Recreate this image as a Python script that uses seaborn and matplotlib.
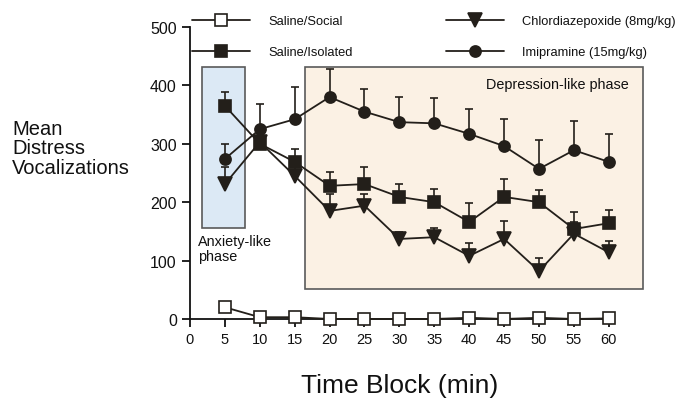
import matplotlib
matplotlib.use("Agg")
import numpy as np
import pandas as pd
import seaborn as sns
import matplotlib.pyplot as plt
from matplotlib.lines import Line2D
from matplotlib.patches import Rectangle

# data
time_block = [5, 10, 15, 20, 25, 30, 35, 40, 45, 50, 55, 60]
saline_social = [20, 3, 3, 0, 0, 0, 0, 2, 0, 2, 0, 1]
saline_isolated = [365, 300, 269, 228, 231, 209, 200, 166, 209, 200, 154, 164]
chlordiazepoxide = [231, 303, 245, 185, 194, 137, 140, 108, 137, 82, 146, 114]
imipramine = [274, 325, 342, 380, 355, 337, 335, 317, 296, 257, 289, 269]

isolated_err = [24, 20, 22, 24, 29, 22, 23, 33, 31, 21, 29, 23]
chlor_err = [30, 20, 20, 29, 20, 12, 15, 22, 31, 22, 20, 20]
imip_err = [26, 43, 55, 48, 39, 43, 43, 43, 46, 49, 50, 48]

series_names = ["Saline/Social", "Saline/Isolated",
                "Chlordiazepoxide (8mg/kg)", "Imipramine (15mg/kg)"]

ink = "#231f1a"

sns.set_style("ticks")
plt.rcParams['font.family'] = ['Liberation Sans', 'DejaVu Sans']
plt.rcParams['text.color'] = "#111"
plt.rcParams['xtick.color'] = "#111"
plt.rcParams['ytick.color'] = "#111"

fig = plt.figure(figsize=(6.81, 4.10), dpi=100)
ax = fig.add_axes([183 / 681, (410 - 325.8) / 410, 467.7 / 681, 309.5 / 410])

# phase boxes
ax.add_patch(Rectangle((1.7, 156), 6.2, 275, facecolor="#dce9f5",
                       edgecolor="#5a5a5a", lw=1.2, zorder=0))
ax.add_patch(Rectangle((16.5, 51), 48.4, 380, facecolor="#fbf1e4",
                       edgecolor="#5a5a5a", lw=1.2, zorder=0))
ax.text(1.1, 145, "Anxiety-like\nphase", fontsize=10.4, ha="left", va="top",
        linespacing=1.05)
ax.text(62.8, 402, "Depression-like phase", fontsize=10.4, ha="right",
        va="center")

df = pd.DataFrame({"time": time_block,
                   series_names[0]: saline_social,
                   series_names[1]: saline_isolated,
                   series_names[2]: chlordiazepoxide,
                   series_names[3]: imipramine})

# upper-only error bars
for vals, err in [(saline_isolated, isolated_err),
                  (chlordiazepoxide, chlor_err),
                  (imipramine, imip_err)]:
    ax.errorbar(time_block, vals, yerr=[np.zeros(len(err)), err], fmt="none",
                ecolor=ink, elinewidth=1.2, capsize=3.2, capthick=1.2, zorder=2)

styles = {
    series_names[0]: dict(marker="s", markersize=8, markerfacecolor="white"),
    series_names[1]: dict(marker="s", markersize=8.5, markerfacecolor=ink),
    series_names[2]: dict(marker="v", markersize=10.5, markerfacecolor=ink),
    series_names[3]: dict(marker="o", markersize=8, markerfacecolor=ink),
}

for name in series_names:
    sns.lineplot(data=df, x="time", y=name, ax=ax, color=ink, lw=1.3,
                 markeredgecolor=ink, markeredgewidth=1.2, clip_on=False,
                 zorder=4, **styles[name])

ax.set_xlim(-1, 66)
ax.set_ylim(-10, 520)
ax.spines["left"].set_position(("data", 0))
ax.spines["bottom"].set_position(("data", 0))
ax.spines["left"].set_bounds(0, 500)
ax.spines["bottom"].set_bounds(0, 60)
for side in ["top", "right"]:
    ax.spines[side].set_visible(False)
for side in ["left", "bottom"]:
    ax.spines[side].set_linewidth(1.3)
    ax.spines[side].set_color("#111")
    ax.spines[side].set_zorder(3)

ax.set_xticks(range(0, 61, 5))
ax.set_yticks(range(0, 501, 100))
ax.tick_params(axis="y", labelsize=11.5, length=6, width=1.3, direction="out")
ax.tick_params(axis="x", labelsize=10.5, length=6, width=1.3, direction="out")
ax.set_xlabel("")
ax.set_ylabel("")

fig.text(12 / 681, 1 - 149 / 410, "Mean\nDistress\nVocalizations",
         fontsize=14.5, ha="left", va="center", linespacing=1.05)
fig.text(400 / 681, 1 - 386 / 410, "Time Block (min)", fontsize=19,
         ha="center", va="center")

handles = [Line2D([], [], color=ink, lw=1.3, markeredgecolor=ink,
                  markeredgewidth=1.2, **styles[n]) for n in series_names]
fig.legend(handles, series_names, ncol=2, loc="upper left",
           bbox_to_anchor=(192 / 681, 1 - 16 / 410), frameon=False,
           fontsize=9.3, handlelength=4.5, handletextpad=1.4,
           columnspacing=7.2, labelspacing=1.5, borderpad=0,
           borderaxespad=0)

fig.savefig("out.png", dpi=100)
